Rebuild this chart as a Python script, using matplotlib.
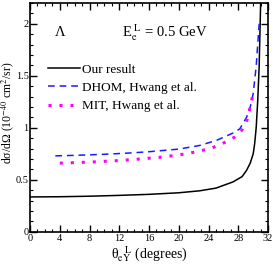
import matplotlib
matplotlib.use("Agg")
import matplotlib.pyplot as plt
from matplotlib.ticker import MultipleLocator

# ---- data ----
our_x = [0, 4, 8, 12, 16, 20, 22.8, 25, 27.3, 28.5, 29.1, 29.6, 30.0, 30.2, 30.4, 30.6, 30.8, 31.0]
our_y = [0.335, 0.337, 0.342, 0.35, 0.36, 0.375, 0.394, 0.42, 0.48, 0.53, 0.59, 0.66, 0.75, 0.85, 1.0, 1.25, 1.59, 2.2]

dhom_x = [3.4, 6, 10, 14, 16, 20, 22.8, 25.1, 27.3, 28.2, 29.1, 29.6, 30.0, 30.4, 30.8]
dhom_y = [0.73, 0.735, 0.745, 0.76, 0.77, 0.795, 0.83, 0.88, 0.95, 0.99, 1.1, 1.2, 1.33, 1.59, 2.0]

mit_x = [4, 8, 12, 14.8, 18, 21, 23, 24.2, 25.3, 26.5, 27.5, 28.5, 29.2, 29.6, 29.9]
mit_y = [0.66, 0.67, 0.685, 0.70, 0.72, 0.75, 0.78, 0.80, 0.83, 0.87, 0.91, 0.98, 1.08, 1.20, 1.30]

xticks = [0, 4, 8, 12, 16, 20, 24, 28, 32]
yticks = [0, 0.5, 1, 1.5, 2]
yticklabels = ["0", "0.5", "1", "1.5", "2"]

plt.rcParams["font.family"] = ["Liberation Serif", "DejaVu Serif"]
plt.rcParams["mathtext.fontset"] = "stix"

fig = plt.figure(figsize=(2.73, 2.73), dpi=100)
ax = fig.add_axes([0.11, 0.151, 0.872, 0.838])

ax.plot(our_x, our_y, color="black", lw=1.1, label="Our result")
ax.plot(dhom_x, dhom_y, color="#1a1aff", lw=1.1, linestyle=(0, (4.4, 3.2)),
        label="DHOM, Hwang et al.")
ax.plot(mit_x, mit_y, color="#ff00ff", lw=2.2, linestyle=(0, (1, 2.6)),
        dash_capstyle="butt", label="MIT, Hwang et al.")

ax.set_xlim(0, 32)
ax.set_ylim(0, 2.2)
ax.set_xticks(xticks)
ax.set_yticks(yticks)
ax.set_yticklabels(yticklabels)
ax.xaxis.set_minor_locator(MultipleLocator(1))
ax.yaxis.set_minor_locator(MultipleLocator(0.1))
ax.tick_params(which="both", direction="in", top=True, right=True, labelsize=7.5, pad=1.5)
ax.tick_params(axis="y", pad=1)
ax.tick_params(which="major", length=5, width=1)
ax.tick_params(which="minor", length=2.5, width=0.8)
for s in ax.spines.values():
    s.set_linewidth(1.2)

ax.text(0.105, 0.87, "Λ", transform=ax.transAxes, fontsize=10.5, va="center")
ax.text(0.386, 0.87, r"E$_{\rm e}^{\ \rm L}$ = 0.5 GeV", transform=ax.transAxes,
        fontsize=10.5, va="center")

ax.legend(loc="upper left", bbox_to_anchor=(0.076, 0.735), frameon=False, fontsize=9.5,
          handlelength=2.4, labelspacing=0.45, handletextpad=0.2, borderpad=0,
          borderaxespad=0)

ax.set_xlabel(r"θ$_{\rm eY}^{\ \ \ \rm L}$ (degrees)", fontsize=10)
ax.xaxis.set_label_coords(0.5, -0.055)
ax.set_ylabel(r"dσ/dΩ (10$^{-40}$ cm$^2$/sr)", fontsize=8.5)
ax.yaxis.set_label_coords(-0.058, 0.52)

fig.savefig("out.png", dpi=100)
